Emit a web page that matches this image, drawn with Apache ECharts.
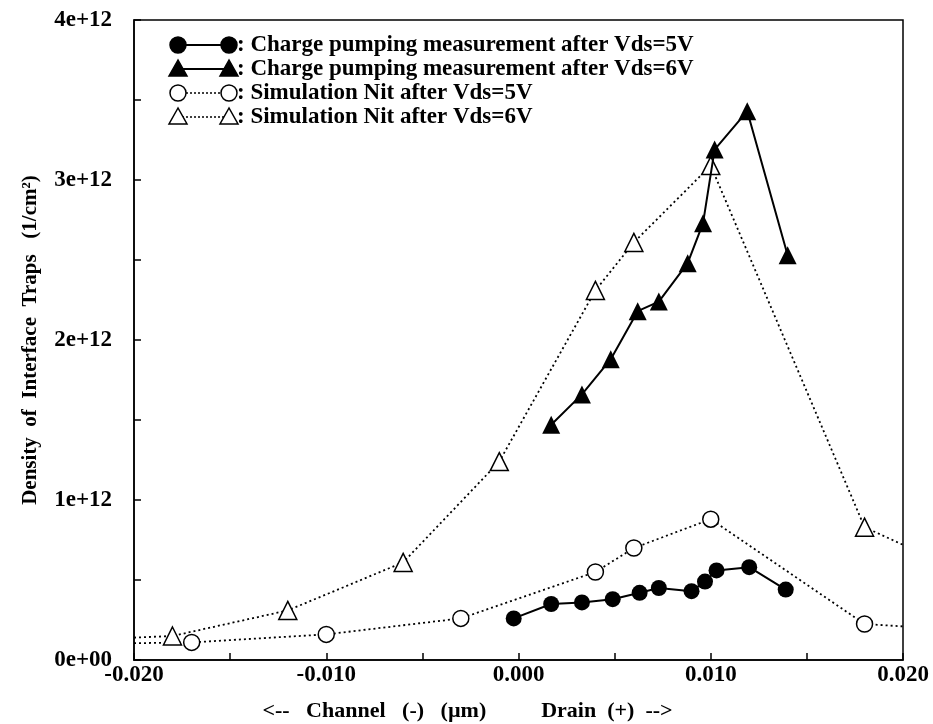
<!DOCTYPE html>
<html>
<head>
<meta charset="utf-8">
<title>Density of Interface Traps</title>
<script src="https://cdn.jsdelivr.net/npm/echarts@6/dist/echarts.min.js"></script>
<style>
  html, body { margin: 0; padding: 0; background: #fff; }
  #chart { width: 933px; height: 724px; }
</style>
</head>
<body>
<div id="chart"></div>
<script>
// === DATA (x in um, y in units of 1e12 /cm^2) ===
const cp5X = [-0.00025, 0.0017, 0.0033, 0.0049, 0.0063, 0.0073, 0.0090, 0.0097, 0.0103, 0.0120, 0.0139];
const cp5Y = [0.26, 0.35, 0.36, 0.38, 0.42, 0.45, 0.43, 0.49, 0.56, 0.58, 0.44];

const cp6X = [0.0017, 0.0033, 0.0048, 0.0062, 0.0073, 0.0088, 0.0096, 0.0102, 0.0119, 0.0140];
const cp6Y = [1.47, 1.66, 1.88, 2.18, 2.24, 2.48, 2.73, 3.19, 3.43, 2.53];

// first/last points sit on the frame (line runs off the plot), drawn without a marker
const sim5X = [-0.020, -0.017, -0.010, -0.003, 0.004, 0.006, 0.010, 0.018, 0.020];
const sim5Y = [0.105, 0.11, 0.16, 0.26, 0.55, 0.70, 0.88, 0.225, 0.21];

const sim6X = [-0.020, -0.018, -0.012, -0.006, -0.001, 0.004, 0.006, 0.010, 0.018, 0.020];
const sim6Y = [0.14, 0.15, 0.31, 0.61, 1.24, 2.31, 2.61, 3.09, 0.83, 0.72];

const legendLabels = [
    ': Charge pumping measurement after Vds=5V',
    ': Charge pumping measurement after Vds=6V',
    ': Simulation Nit after Vds=5V',
    ': Simulation Nit after Vds=6V'
];

const SCALE = 1e12;
const FONT = '"Liberation Serif", "DejaVu Serif", serif';

function toPoints(xs, ys) {
    return xs.map((x, i) => {
        const p = { value: [x, ys[i] * SCALE] };
        if (Math.abs(Math.abs(x) - 0.02) < 1e-9) p.symbol = 'none';
        return p;
    });
}

// === LEGEND (drawn by hand: marker - line - marker) ===
function legendGraphics() {
    const rows = [45, 69, 93, 117];
    const x1 = 178, x2 = 229;
    const els = [];
    rows.forEach((y, i) => {
        const dotted = i >= 2;
        const filled = i < 2;
        const tri = i === 1 || i === 3;
        els.push({
            type: 'line',
            shape: { x1: x1, y1: y, x2: x2, y2: y },
            style: { stroke: '#000', lineWidth: dotted ? 1.5 : 2, lineDash: dotted ? [2, 2] : null },
            z: 10
        });
        [x1, x2].forEach(cx => {
            if (tri) {
                els.push({
                    type: 'polygon',
                    shape: { points: [[cx, y - 9], [cx - 9, y + 7], [cx + 9, y + 7]] },
                    style: { fill: filled ? '#000' : '#fff', stroke: '#000', lineWidth: 1.5 },
                    z: 11
                });
            } else {
                els.push({
                    type: 'circle',
                    shape: { cx: cx, cy: y, r: 8 },
                    style: { fill: filled ? '#000' : '#fff', stroke: '#000', lineWidth: 1.5 },
                    z: 11
                });
            }
        });
        els.push({
            type: 'text',
            x: 237, y: y,
            style: {
                text: legendLabels[i],
                font: 'bold 23px ' + FONT,
                fill: '#000',
                textVerticalAlign: 'middle'
            },
            z: 11
        });
    });
    return els;
}

// === CHART ===
const chart = echarts.init(document.getElementById('chart'));

const axisText = { color: '#000', fontFamily: FONT, fontWeight: 'bold', fontSize: 23 };

chart.setOption({
    backgroundColor: '#fff',
    animation: false,
    grid: {
        left: 134, right: 30, top: 20, bottom: 64,
        outerBoundsMode: 'none',
        show: true, borderColor: '#000', borderWidth: 1.5
    },
    xAxis: {
        type: 'value',
        min: -0.02, max: 0.02, interval: 0.01,
        name: '<--   Channel   (-)   (\u00b5m)          Drain  (+)  -->',
        nameLocation: 'middle', nameGap: 40,
        nameTextStyle: { ...axisText, fontSize: 22, padding: [0, 102, 0, 0] },
        axisLine: { show: true, onZero: false, lineStyle: { color: '#000', width: 1.5 } },
        axisTick: { show: true, inside: true, length: 7, lineStyle: { color: '#000', width: 1.5 } },
        minorTick: { show: true, splitNumber: 2, length: 7, lineStyle: { color: '#000', width: 1.5 } },
        axisLabel: { ...axisText, margin: 4, formatter: v => v.toFixed(3) },
        splitLine: { show: false }
    },
    yAxis: {
        type: 'value',
        min: 0, max: 4 * SCALE, interval: SCALE,
        name: 'Density  of  Interface  Traps   (1/cm\u00b2)',
        nameLocation: 'middle', nameGap: 93,
        nameTextStyle: { ...axisText, fontSize: 21 },
        axisLine: { show: true, onZero: false, lineStyle: { color: '#000', width: 1.5 } },
        axisTick: { show: true, inside: true, length: 7, lineStyle: { color: '#000', width: 1.5 } },
        minorTick: { show: true, splitNumber: 2, length: 7, lineStyle: { color: '#000', width: 1.5 } },
        axisLabel: {
            ...axisText, margin: 22,
            formatter: v => v === 0 ? '0e+00' : Math.round(v / SCALE) + 'e+12'
        },
        splitLine: { show: false }
    },
    series: [
        {
            name: 'sim5', type: 'line', data: toPoints(sim5X, sim5Y),
            symbol: 'circle', symbolSize: 16, z: 2,
            lineStyle: { color: '#000', width: 1.8, type: [2, 3] },
            itemStyle: { color: '#fff', borderColor: '#000', borderWidth: 1.5 }
        },
        {
            name: 'sim6', type: 'line', data: toPoints(sim6X, sim6Y),
            symbol: 'triangle', symbolSize: 18, z: 2,
            lineStyle: { color: '#000', width: 1.8, type: [2, 3] },
            itemStyle: { color: '#fff', borderColor: '#000', borderWidth: 1.5 }
        },
        {
            name: 'cp5', type: 'line', data: toPoints(cp5X, cp5Y),
            symbol: 'circle', symbolSize: 16, z: 3,
            lineStyle: { color: '#000', width: 2 },
            itemStyle: { color: '#000', borderColor: '#000', borderWidth: 0 }
        },
        {
            name: 'cp6', type: 'line', data: toPoints(cp6X, cp6Y),
            symbol: 'triangle', symbolSize: 18, z: 3,
            lineStyle: { color: '#000', width: 2 },
            itemStyle: { color: '#000', borderColor: '#000', borderWidth: 0 }
        }
    ],
    graphic: legendGraphics()
});
</script>
</body>
</html>
